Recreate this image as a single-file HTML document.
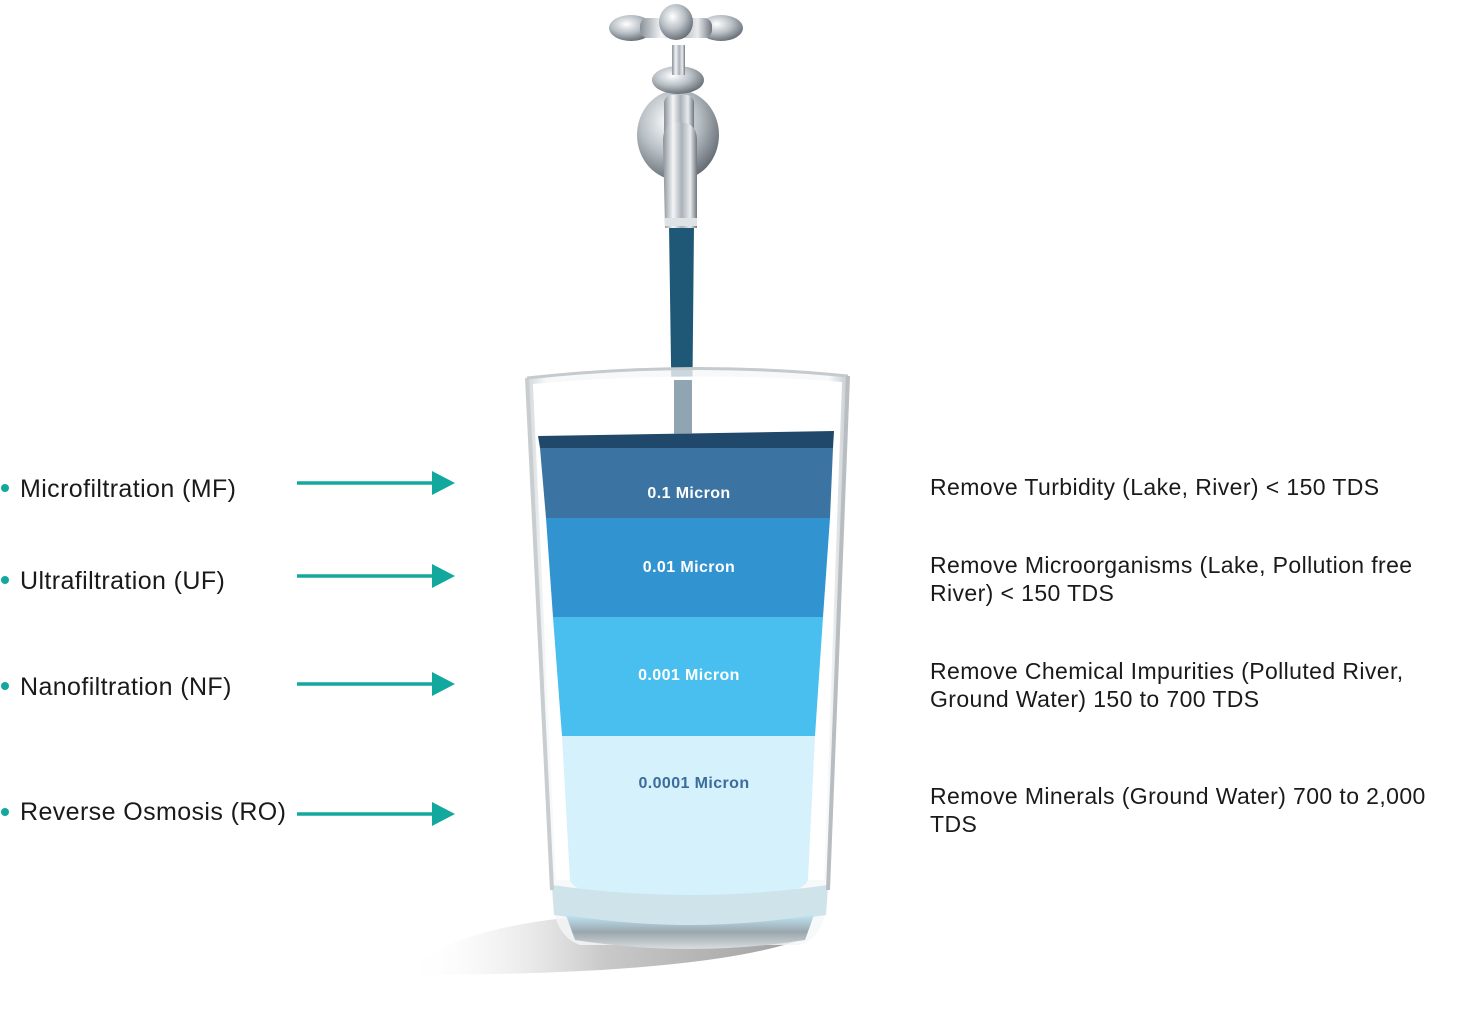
<!DOCTYPE html>
<html><head><meta charset="utf-8"><style>
html,body{margin:0;padding:0;background:#fff;}
svg{display:block;}
text{font-family:"Liberation Sans",Arial,sans-serif;}
</style></head><body>
<svg width="1482" height="1010" viewBox="0 0 1482 1010" xmlns="http://www.w3.org/2000/svg">
<defs>
<linearGradient id="chrome" x1="0" x2="1" y1="0" y2="0">
<stop offset="0" stop-color="#8a9199"/><stop offset="0.3" stop-color="#f4f6f8"/><stop offset="0.55" stop-color="#aab1b8"/><stop offset="0.8" stop-color="#e8ecef"/><stop offset="1" stop-color="#6f767d"/>
</linearGradient>
<radialGradient id="ball" cx="0.4" cy="0.35" r="0.7">
<stop offset="0" stop-color="#ffffff"/><stop offset="0.5" stop-color="#b9c0c6"/><stop offset="1" stop-color="#5f666d"/>
</radialGradient>
<linearGradient id="shadow" x1="0" x2="1" y1="0" y2="0">
<stop offset="0" stop-color="#fff" stop-opacity="0"/><stop offset="0.5" stop-color="#bcbcbc"/><stop offset="1" stop-color="#888"/>
</linearGradient>
<linearGradient id="glassEdge" x1="0" x2="1">
<stop offset="0" stop-color="#c9ced2"/><stop offset="0.06" stop-color="#f5f7f8"/><stop offset="0.94" stop-color="#f5f7f8"/><stop offset="1" stop-color="#b9bfc4"/>
</linearGradient>
<linearGradient id="base" x1="0" x2="0" y1="0" y2="1">
<stop offset="0" stop-color="#bfe6f5"/><stop offset="0.5" stop-color="#9aa6ad"/><stop offset="1" stop-color="#d9dde0"/>
</linearGradient>
</defs>

<path d="M405 975 Q450 925 600 915 L800 940 Q700 975 405 975 Z" fill="url(#shadow)" opacity="0.8"/>

<path d="M669 225 L694 225 L692 432 L672 432 Z" fill="#1f5777"/>

<ellipse cx="678" cy="135" rx="41" ry="45" fill="url(#ball)"/>
<rect x="664" y="95" width="30" height="45" rx="8" fill="url(#chrome)"/>
<ellipse cx="678" cy="80" rx="26" ry="14" fill="url(#ball)"/>
<rect x="672" y="45" width="13" height="30" fill="url(#chrome)"/>
<ellipse cx="631" cy="28" rx="22" ry="13" fill="url(#ball)"/>
<ellipse cx="721" cy="28" rx="22" ry="13" fill="url(#ball)"/>
<rect x="640" y="18" width="72" height="20" rx="8" fill="url(#chrome)"/>
<ellipse cx="676" cy="22" rx="17" ry="18" fill="url(#ball)"/>
<path d="M663 140 Q663 123 680 122 Q697 123 697 140 L697 228 L665 228 Z" fill="url(#chrome)"/>
<rect x="665" y="218" width="32" height="8" fill="#dfe3e6"/>

<path d="M527 378 Q690 360 848 376 L828 890 Q828 935 800 945 L580 945 Q552 935 552 890 Z" fill="url(#glassEdge)" opacity="0.8"/>
<path d="M533 384 Q690 370 842 382 L824 880 L556 880 Z" fill="#fff"/>

<path d="M538 436 L834 431 L833 448 L540 448 Z" fill="#20486a"/>
<path d="M540 448 L833 448 L830 518 L546 518 Z" fill="#3b74a2"/>
<path d="M546 518 L830 518 L823 617 L553 617 Z" fill="#3193cf"/>
<path d="M553 617 L823 617 L815 736 L562 736 Z" fill="#48bfee"/>
<path d="M562 736 L815 736 L808 880 Q800 900 690 902 Q575 900 570 880 Z" fill="#d5f1fb"/>
<rect x="674" y="380" width="18" height="54" fill="#5f7f92" opacity="0.7"/>

<path d="M552 885 Q690 905 828 885 L826 915 Q690 935 554 915 Z" fill="#cfe3ea"/>
<path d="M566 915 Q690 935 814 915 L805 940 Q690 958 575 940 Z" fill="url(#base)"/>
<path d="M527 378 Q690 360 848 376" fill="none" stroke="#c5cacd" stroke-width="3"/>
<path d="M527 378 L552 890" fill="none" stroke="#c8cdd0" stroke-width="4"/>
<path d="M848 376 L828 890" fill="none" stroke="#b8bdc1" stroke-width="4"/>

<g font-weight="bold" font-size="16" text-anchor="middle" letter-spacing="0.4">
<text x="689" y="498" fill="#fff">0.1 Micron</text>
<text x="689" y="572" fill="#fff">0.01 Micron</text>
<text x="689" y="680" fill="#fff">0.001 Micron</text>
<text x="694" y="788" fill="#3a6d9c">0.0001 Micron</text>
</g>

<g font-size="25" fill="#1a1a1a" letter-spacing="0.4">
<text x="20" y="497">Microfiltration (MF)</text>
<text x="20" y="589">Ultrafiltration (UF)</text>
<text x="20" y="695">Nanofiltration (NF)</text>
<text x="20" y="820">Reverse Osmosis (RO)</text>
</g>
<g fill="#13a89e">
<circle cx="5" cy="488" r="4"/><circle cx="5" cy="580" r="4"/><circle cx="5" cy="686" r="4"/><circle cx="5" cy="812" r="4"/>
</g>
<g stroke="#13a89e" stroke-width="3.5">
<line x1="297" y1="483" x2="436" y2="483"/>
<line x1="297" y1="576" x2="436" y2="576"/>
<line x1="297" y1="684" x2="436" y2="684"/>
<line x1="297" y1="814" x2="436" y2="814"/>
</g>
<g fill="#13a89e">
<polygon points="432,471 455,483 432,495"/>
<polygon points="432,564 455,576 432,588"/>
<polygon points="432,672 455,684 432,696"/>
<polygon points="432,802 455,814 432,826"/>
</g>

<g font-size="23" fill="#1a1a1a" letter-spacing="0.4">
<text x="930" y="495">Remove Turbidity (Lake, River) &lt; 150 TDS</text>
<text x="930" y="573">Remove Microorganisms (Lake, Pollution free</text>
<text x="930" y="601">River) &lt; 150 TDS</text>
<text x="930" y="679">Remove Chemical Impurities (Polluted River,</text>
<text x="930" y="707">Ground Water) 150 to 700 TDS</text>
<text x="930" y="804">Remove Minerals (Ground Water) 700 to 2,000</text>
<text x="930" y="832">TDS</text>
</g>
</svg>
</body></html>
